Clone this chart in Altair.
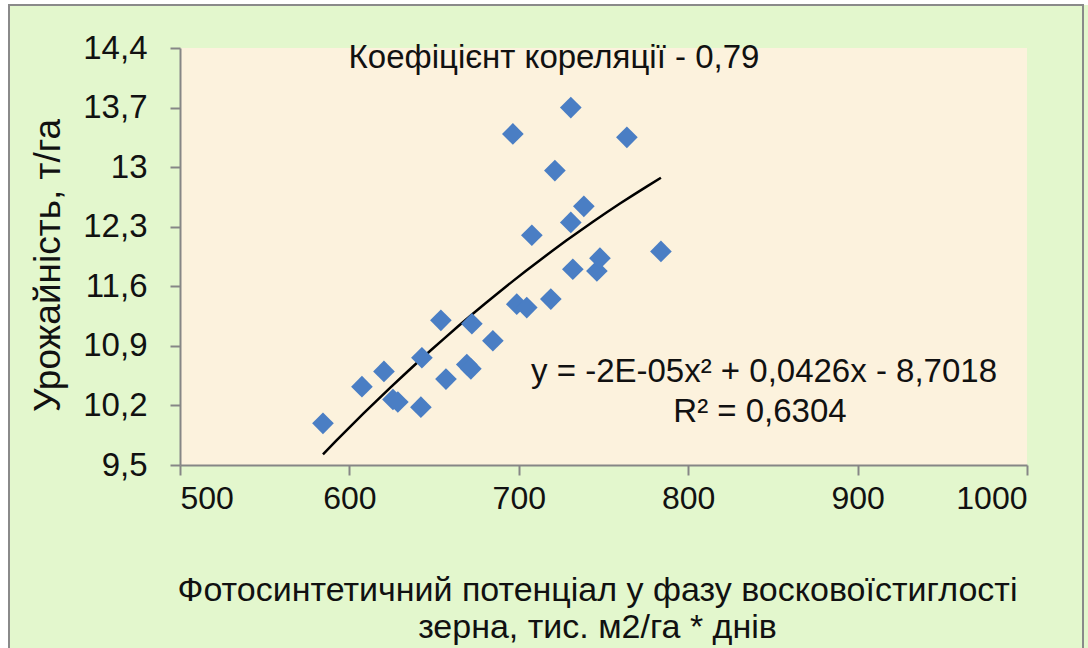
import altair as alt
import pandas as pd

# Data
x_vals = [584.4, 607.4, 620.4, 625.7, 628.6, 642.2, 642.8, 654.0, 657.0, 672.3,
          669.3, 671.7, 684.7, 696.5, 698.8, 704.7, 707.7, 718.9, 721.3, 730.7,
          730.7, 731.9, 738.4, 746.1, 747.9, 763.8, 783.9]
y_vals = [9.99, 10.42, 10.60, 10.27, 10.24, 10.18, 10.76, 11.20, 10.51, 11.16,
          10.68, 10.63, 10.96, 13.39, 11.39, 11.35, 12.20, 11.45, 12.96, 13.70,
          12.35, 11.80, 12.54, 11.78, 11.93, 13.35, 12.01]

x_ticks = [500, 600, 700, 800, 900, 1000]
y_ticks = [9.5, 10.2, 10.9, 11.6, 12.3, 13.0, 13.7, 14.4]

x_title = ["Фотосинтетичний потенціал у фазу восковоїстиглості",
           "зерна, тис. м2/га * днів"]
y_title = "Урожайність, т/га"
corr_text = "Коефіцієнт кореляції - 0,79"
eq_text = "y = -2E-05x² + 0,0426x - 8,7018"
r2_text = "R² = 0,6304"

FONT = "Liberation Sans"
W, H = 847, 417

df = pd.DataFrame({"x": x_vals, "y": y_vals})
one = pd.DataFrame({"a": [0]})

xs = alt.Scale(domain=[500, 1000], nice=False, zero=False)
ys = alt.Scale(domain=[9.5, 14.4], nice=False, zero=False)

x_axis = alt.Axis(values=x_ticks, title=x_title, grid=False, format="d",
                  labelPadding=8, labelFontSize=32,
                  titleFontSize=34, titleFontWeight="normal", titleFont=FONT,
                  titleLineHeight=37, titleBaseline="alphabetic",
                  titleX=417, titleY=135, titleAnchor="middle", titleAlign="center")
y_axis = alt.Axis(values=y_ticks, title=y_title, grid=False,
                  labelPadding=23, labelFontSize=33,
                  labelExpr="replace(format(datum.value, '.1~f'), '.', ',')",
                  titleFontSize=37, titleFontWeight="normal", titleFont=FONT,
                  titleAngle=-90, titleBaseline="middle", titleAlign="center",
                  titleX=-132, titleY=217)

points = alt.Chart(df).mark_point(
    shape="diamond", filled=True, size=470, color="#4a7ec4", opacity=1
).encode(
    x=alt.X("x:Q", scale=xs, axis=x_axis),
    y=alt.Y("y:Q", scale=ys, axis=y_axis),
)

trend = alt.Chart(df).transform_regression(
    "x", "y", method="poly", order=2
).mark_line(color="#000000", strokeWidth=2.5).encode(
    x=alt.X("x:Q", scale=xs),
    y=alt.Y("y:Q", scale=ys),
)

def label(text, px, py):
    return alt.Chart(one).mark_text(
        text=text, font=FONT, fontSize=33, color="#111111",
        align="center", baseline="alphabetic"
    ).encode(x=alt.value(px), y=alt.value(py))

corr = label(corr_text, 374, 20)
eq = label(eq_text, 584, 334)
r2 = label(r2_text, 580, 374)

# Decorative outer frame
white_left = alt.Chart(one).mark_rect(fill="#ffffff").encode(
    x=alt.value(-180), x2=alt.value(-171), y=alt.value(-48), y2=alt.value(600))
white_top = alt.Chart(one).mark_rect(fill="#ffffff").encode(
    x=alt.value(-180), x2=alt.value(908), y=alt.value(-48), y2=alt.value(-43))
frame = alt.Chart(one).mark_rect(
    fillOpacity=0, stroke="#8a8a8a", strokeWidth=2
).encode(x=alt.value(-171), x2=alt.value(903), y=alt.value(-43), y2=alt.value(650))

chart = alt.layer(
    white_left, white_top, frame, trend, points, corr, eq, r2
).properties(
    width=W, height=H,
    autosize=alt.AutoSizeParams(type="none"),
    padding={"left": 180, "top": 48, "right": 1088 - 180 - W, "bottom": 648 - 48 - H},
    background="#e3f7cd",
).configure_view(
    fill="#fcf2dd", strokeWidth=0
).configure_axis(
    domainColor="#868686", domainWidth=2,
    tickColor="#868686", tickWidth=2, tickSize=10,
    labelFont=FONT, labelColor="#111111", titleColor="#111111",
)

chart.save("out.html", embed_options={"renderer": "svg", "actions": False})
